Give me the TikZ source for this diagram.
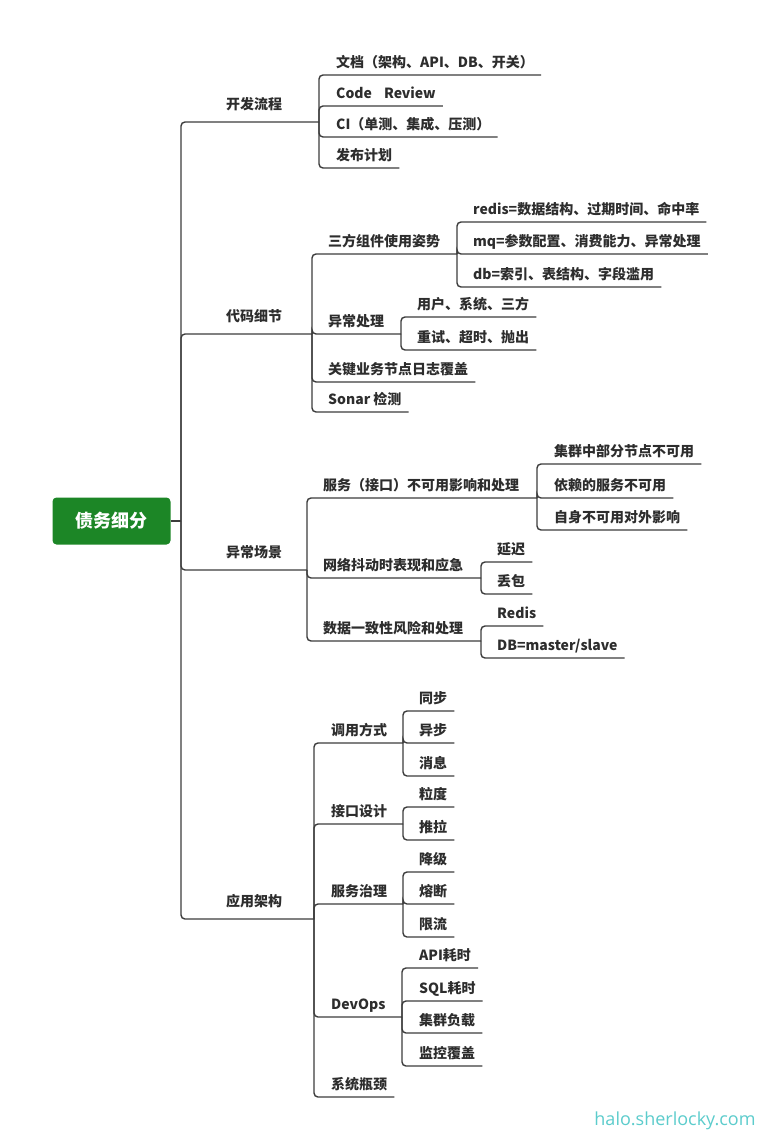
\documentclass[tikz,border=0pt]{standalone}
\usepackage{fontspec}
\newfontfamily\cjk{Noto Sans CJK SC}
\newfontfamily\wm{Open Sans}
\usetikzlibrary{calc}
\definecolor{linec}{RGB}{60,60,60}
\definecolor{txtc}{RGB}{45,45,45}
\definecolor{rootg}{RGB}{28,134,38}
\definecolor{wmc}{RGB}{92,204,204}
\tikzset{
  conn/.style={draw=linec, line width=1.4pt, rounded corners=4pt},
  lbl/.style={anchor=west, inner sep=0pt, text=txtc, font=\cjk\bfseries\fontsize{14}{16}\selectfont, text height=12pt, text depth=2pt},
  rootbox/.style={fill=rootg, rounded corners=4pt, minimum width=118pt, minimum height=47pt, inner sep=0pt, text=white, font=\cjk\bfseries\fontsize{18}{20}\selectfont},
  wmark/.style={inner sep=0pt, text=wmc, font=\wm\fontsize{18}{20}\selectfont}
}
\begin{document}
\begin{tikzpicture}[x=1pt,y=-1pt]
\fill[white] (0,0) rectangle (767,1143);
\useasboundingbox (0,0) rectangle (767,1143);

% root
\node[rootbox] (root) at (111.5,521) {债务细分};
\coordinate (trunk) at (181,521);

% level 1
\node[lbl] (A) at (226,104) {开发流程};
\node[lbl] (B) at (226,316) {代码细节};
\node[lbl] (C) at (226,552) {异常场景};
\node[lbl] (D) at (226,901) {应用架构};
\coordinate (Au) at (319,122);
\coordinate (Bu) at (312,334);
\coordinate (Cu) at (307,570);
\coordinate (Du) at (314,919);

% A children
\node[lbl] (A1) at (336,62) {文档（架构、API、DB、开关）};
\node[lbl] (A2) at (336,93) {Code\hspace{12pt}Review};
\node[lbl] (A3) at (336,124) {CI（单测、集成、压测）};
\node[lbl] (A4) at (336,155) {发布计划};

% B children
\node[lbl] (B1) at (328,241) {三方组件使用姿势};
\coordinate (B1u) at (457,254);
\node[lbl] (B11) at (473,209) {redis=数据结构、过期时间、命中率};
\node[lbl] (B12) at (473,241) {mq=参数配置、消费能力、异常处理};
\node[lbl] (B13) at (473,274) {db=索引、表结构、字段滥用};
\node[lbl] (B2) at (328,321) {异常处理};
\coordinate (B2u) at (401,334);
\node[lbl] (B21) at (417,304) {用户、系统、三方};
\node[lbl] (B22) at (417,337) {重试、超时、抛出};
\node[lbl] (B3) at (328,369) {关键业务节点日志覆盖};
\node[lbl] (B4) at (328,399) {Sonar 检测};

% C children
\node[lbl] (C1) at (323,485) {服务（接口）不可用影响和处理};
\coordinate (C1u) at (537,498);
\node[lbl] (C11) at (554,451) {集群中部分节点不可用};
\node[lbl] (C12) at (554,485) {依赖的服务不可用};
\node[lbl] (C13) at (554,517) {自身不可用对外影响};
\node[lbl] (C2) at (323,565) {网络抖动时表现和应急};
\coordinate (C2u) at (481,578);
\node[lbl] (C21) at (497,549) {延迟};
\node[lbl] (C22) at (497,581) {丢包};
\node[lbl] (C3) at (323,628) {数据一致性风险和处理};
\coordinate (C3u) at (481,641);
\node[lbl] (C31) at (497,613) {Redis};
\node[lbl] (C32) at (497,645) {DB=master/slave};

% D children
\node[lbl] (D1) at (331,730) {调用方式};
\coordinate (D1u) at (403,743);
\node[lbl] (D11) at (419,698) {同步};
\node[lbl] (D12) at (419,730) {异步};
\node[lbl] (D13) at (419,763) {消息};
\node[lbl] (D2) at (331,811) {接口设计};
\coordinate (D2u) at (403,824);
\node[lbl] (D21) at (419,794) {粒度};
\node[lbl] (D22) at (419,827) {推拉};
\node[lbl] (D3) at (331,891) {服务治理};
\coordinate (D3u) at (403,904);
\node[lbl] (D31) at (419,859) {降级};
\node[lbl] (D32) at (419,891) {熔断};
\node[lbl] (D33) at (419,924) {限流};
\node[lbl] (D4) at (331,1004) {DevOps};
\coordinate (D4u) at (402,1017);
\node[lbl] (D41) at (419,955) {API耗时};
\node[lbl] (D42) at (419,988) {SQL耗时};
\node[lbl] (D43) at (419,1020) {集群负载};
\node[lbl] (D44) at (419,1053) {监控覆盖};
\node[lbl] (D5) at (331,1084) {系统瓶颈};

% leaf underline ends
\foreach \n in {A1,A2,A3,A4,B11,B12,B13,B21,B22,B3,B4,C11,C12,C13,C21,C22,C31,C32,D11,D12,D13,D21,D22,D31,D32,D33,D41,D42,D43,D44,D5}
  \coordinate (\n u) at ([shift={(7,13)}]\n.east);

% connectors
\draw[conn] (root.east) -- (trunk);
\foreach \n in {Au,Bu,Cu,Du} \draw[conn] (trunk) |- (\n);
\foreach \n in {A1u,A2u,A3u,A4u} \draw[conn] (Au) |- (\n);
\foreach \n in {B1u,B2u,B3u,B4u} \draw[conn] (Bu) |- (\n);
\foreach \n in {B11u,B12u,B13u} \draw[conn] (B1u) |- (\n);
\foreach \n in {B21u,B22u} \draw[conn] (B2u) |- (\n);
\foreach \n in {C1u,C2u,C3u} \draw[conn] (Cu) |- (\n);
\foreach \n in {C11u,C12u,C13u} \draw[conn] (C1u) |- (\n);
\foreach \n in {C21u,C22u} \draw[conn] (C2u) |- (\n);
\foreach \n in {C31u,C32u} \draw[conn] (C3u) |- (\n);
\foreach \n in {D1u,D2u,D3u,D4u,D5u} \draw[conn] (Du) |- (\n);
\foreach \n in {D11u,D12u,D13u} \draw[conn] (D1u) |- (\n);
\foreach \n in {D21u,D22u} \draw[conn] (D2u) |- (\n);
\foreach \n in {D31u,D32u,D33u} \draw[conn] (D3u) |- (\n);
\foreach \n in {D41u,D42u,D43u,D44u} \draw[conn] (D4u) |- (\n);

% watermark
\node[wmark] (wm) at (675,1121) {halo.sherlocky.com};
\end{tikzpicture}
\end{document}
